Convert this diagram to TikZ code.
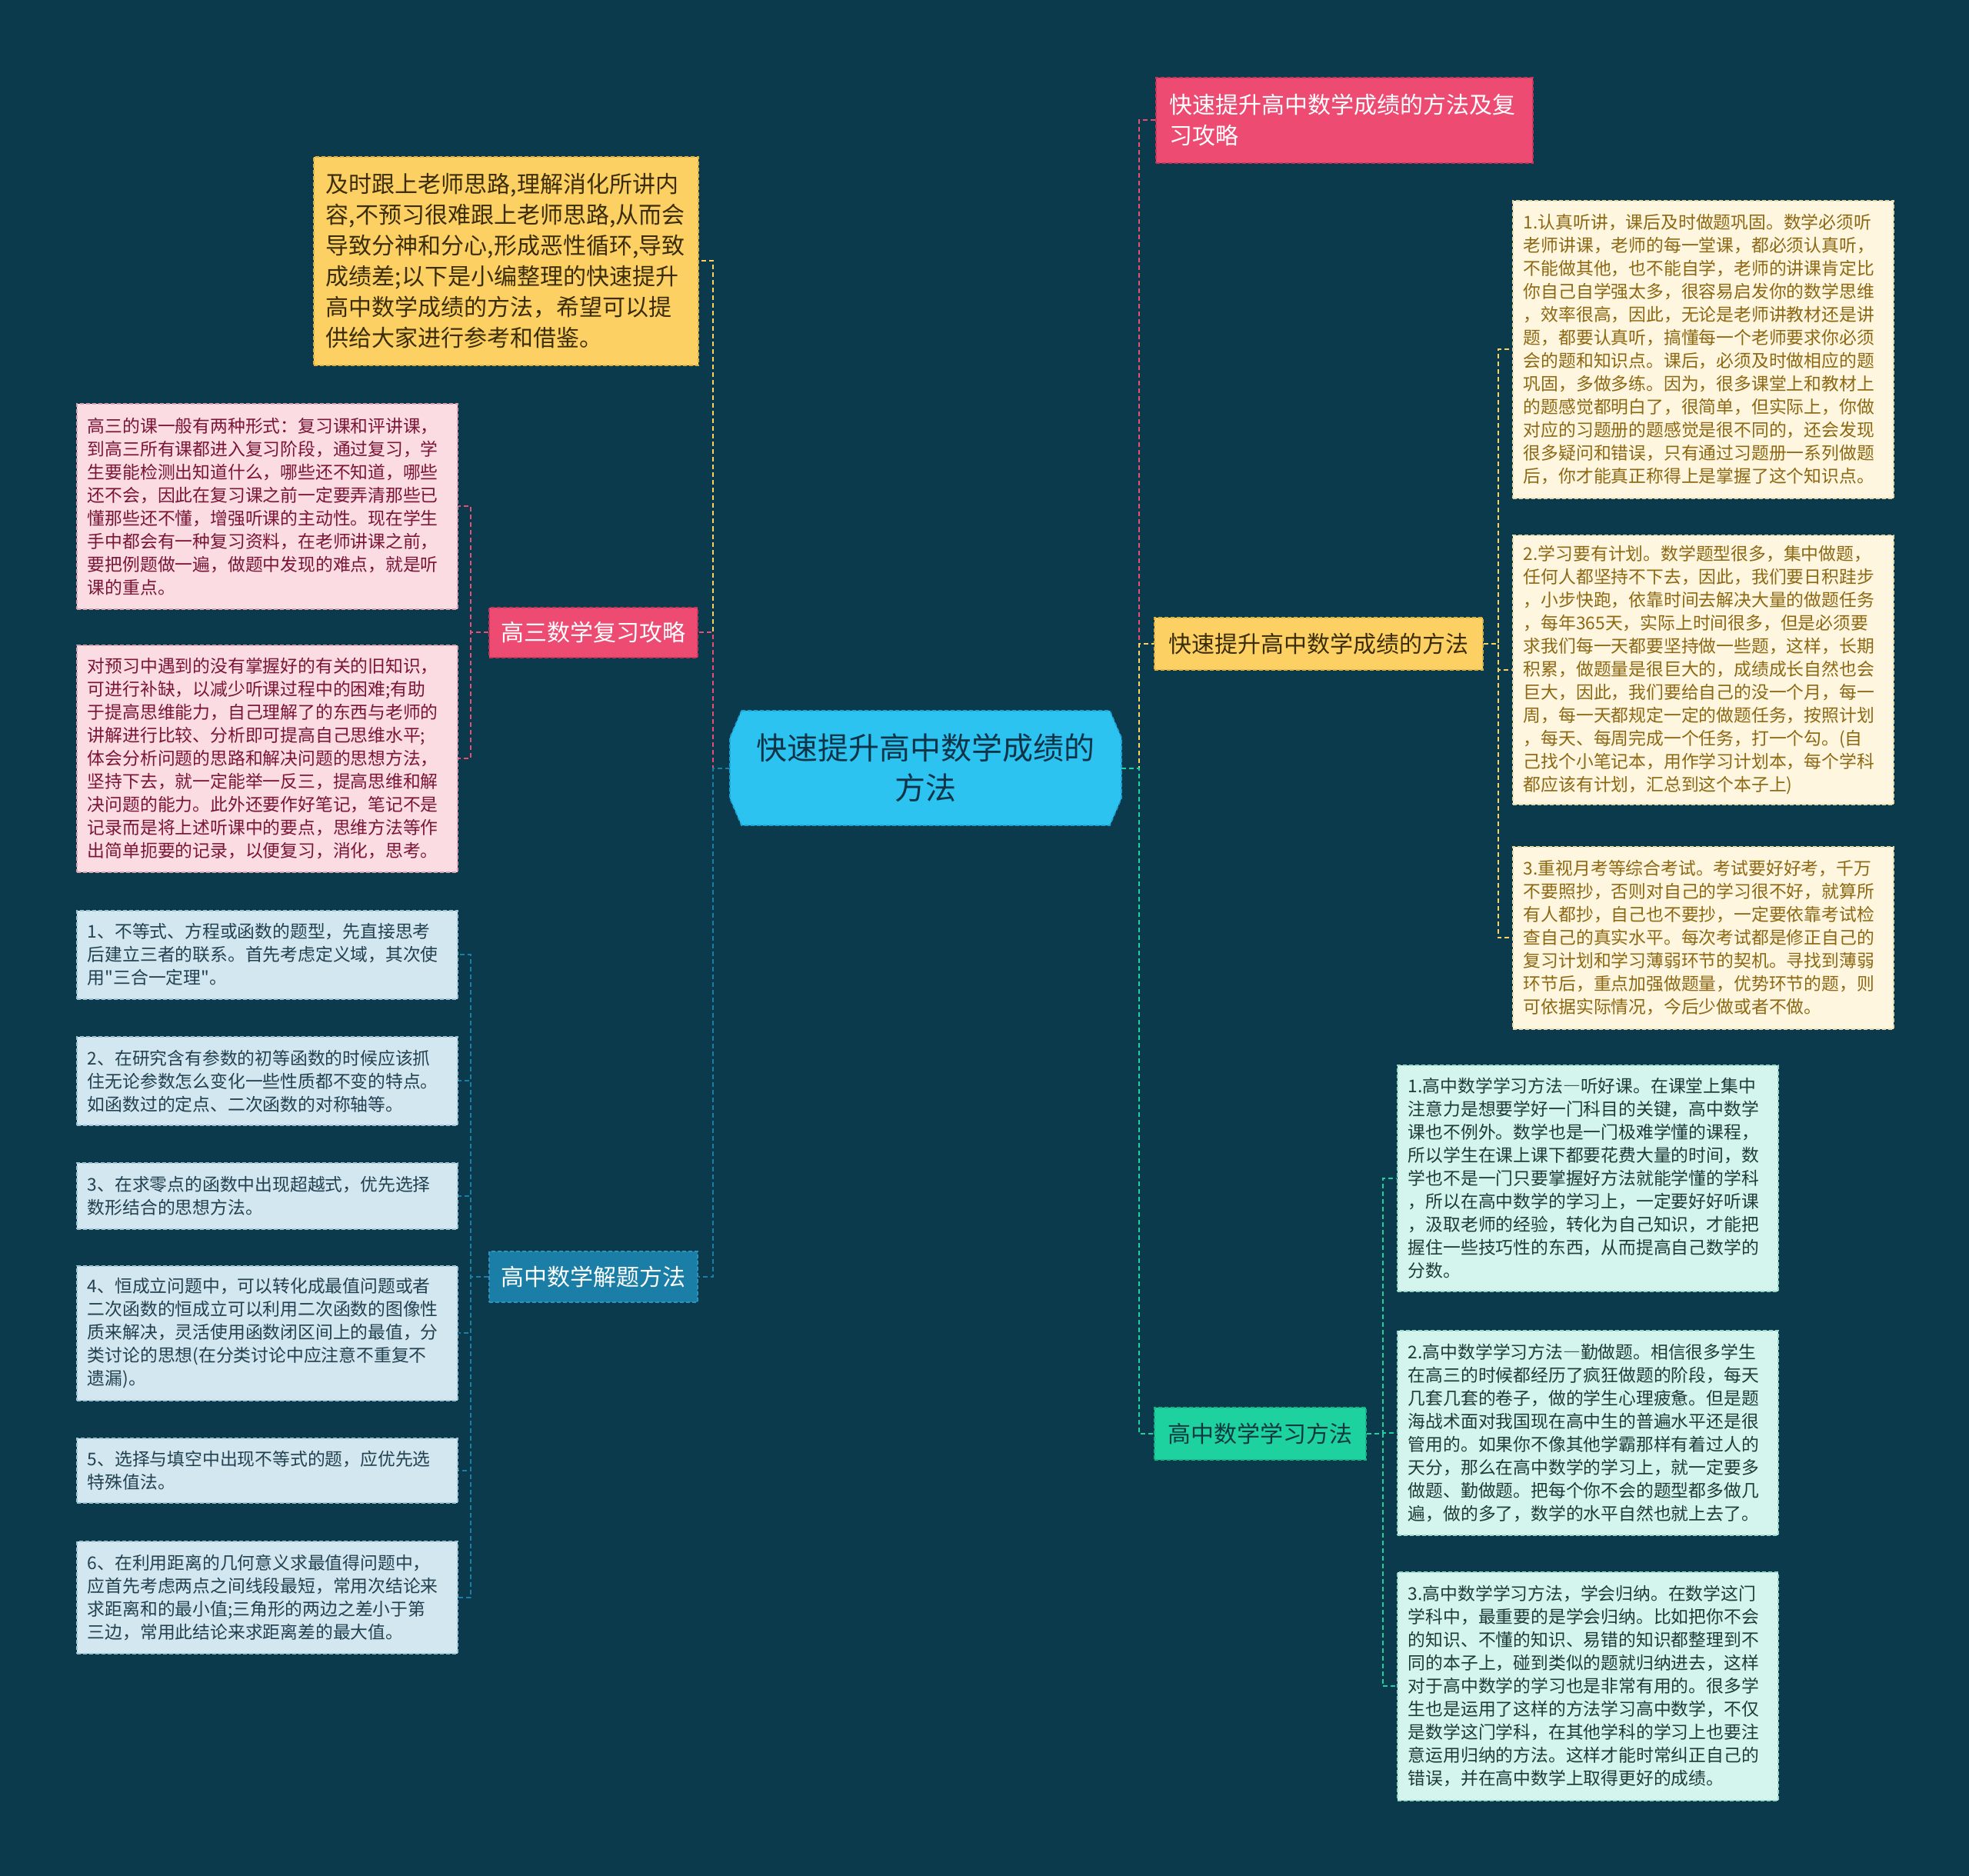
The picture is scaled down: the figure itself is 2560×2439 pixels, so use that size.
\documentclass[tikz,border=0pt]{standalone}
\usepackage{fontspec}
\setmainfont{Noto Sans CJK SC}
\newfontfamily\plainfont{Noto Sans CJK SC}
\newcommand{\fwdash}{{\addfontfeature{CharacterWidth=Full}—}}
\newcommand{\sq}{{\plainfont"}}
\definecolor{bg}{HTML}{0C3A4D}
\definecolor{cyanc}{HTML}{2CC3F1}
\definecolor{cyanb}{HTML}{1BA5D6}
\definecolor{cyant}{HTML}{0F3448}
\definecolor{pinkc}{HTML}{EE4B73}
\definecolor{pinkb}{HTML}{C9345A}
\definecolor{bluec}{HTML}{1A7EA6}
\definecolor{blueb}{HTML}{2B93BE}
\definecolor{yelc}{HTML}{FDD064}
\definecolor{yelb}{HTML}{E0B040}
\definecolor{yelt}{HTML}{3A2D08}
\definecolor{grnc}{HTML}{1ED2A0}
\definecolor{grnb}{HTML}{12B385}
\definecolor{grnt}{HTML}{0D3A40}
\definecolor{pinkleafc}{HTML}{FADCE2}
\definecolor{pinkleafb}{HTML}{D9A0B0}
\definecolor{pinkleaft}{HTML}{7B1535}
\definecolor{blueleafc}{HTML}{D2E7EF}
\definecolor{blueleafb}{HTML}{9EC3D3}
\definecolor{blueleaft}{HTML}{22404F}
\definecolor{creamc}{HTML}{FEF6DE}
\definecolor{creamb}{HTML}{E8D8A8}
\definecolor{creamt}{HTML}{8D6814}
\definecolor{mintc}{HTML}{D4F5EE}
\definecolor{mintb}{HTML}{98D8C8}
\definecolor{mintt}{HTML}{203A3A}
\tikzset{
  leaf/.style={draw, anchor=north west, line width=0.8pt, dash pattern=on 2.5pt off 1.5pt,
    inner xsep=7pt, inner ysep=0pt, align=left, text width=233.5pt,
    font=\fontsize{11.4}{15}\selectfont},
  pinkleaf/.style={leaf, fill=pinkleafc, draw=pinkleafb, text=pinkleaft},
  blueleaf/.style={leaf, fill=blueleafc, draw=blueleafb, text=blueleaft},
  creamleaf/.style={leaf, fill=creamc, draw=creamb, text=creamt},
  mintleaf/.style={leaf, fill=mintc, draw=mintb, text=mintt},
  topic/.style={draw, anchor=north west, line width=0.8pt, dash pattern=on 2.5pt off 1.5pt,
    inner sep=0pt, align=center, font=\fontsize{15}{20}\selectfont},
  conn/.style={line width=1pt, dash pattern=on 3pt off 2pt},
}
\begin{document}
\begin{tikzpicture}[x=0.5pt,y=-0.5pt]
\useasboundingbox (0,0) rectangle (2560,2439);
\fill[bg] (0,0) rectangle (2560,2439);

% central node shape
\filldraw[fill=cyanc, draw=cyanb, line width=0.8pt, dash pattern=on 2.5pt off 1.5pt]
  (964,924) -- (1443,924) -- (1458,959) -- (1458,1038) -- (1443,1073)
  -- (964,1073) -- (949,1038) -- (949,959) -- cycle;
\node[inner sep=0pt, minimum width=254.5pt, minimum height=74.5pt, align=center,
  text=cyant, font=\fontsize{20}{26}\selectfont] (C) at (1203.5,998.5)
  {快速提升高中数学成绩的\\方法};

% left top yellow box
\node[leaf, fill=yelc, draw=yelb, text=yelt, inner xsep=8pt, text width=234pt,
  minimum height=135.5pt, font=\fontsize{15}{20}\selectfont] (LT) at (407,203)
{及时跟上老师思路,理解消化所讲内\\
容,不预习很难跟上老师思路,从而会\\
导致分神和分心,形成恶性循环,导致\\
成绩差;以下是小编整理的快速提升\\
高中数学成绩的方法，希望可以提\\
供给大家进行参考和借鉴。};

% level-1 topics
\node[topic, fill=pinkc, draw=pinkb, text=white, minimum width=135.5pt, minimum height=32.5pt] (G3) at (635,789) {高三数学复习攻略};
\node[topic, fill=bluec, draw=blueb, text=white, minimum width=135.5pt, minimum height=33pt] (JT) at (635,1626) {高中数学解题方法};
\node[topic, fill=pinkc, draw=pinkb, text=white, minimum width=245pt, minimum height=55.5pt,
  align=left, text width=227pt, inner xsep=9pt] (T) at (1502,100)
  {快速提升高中数学成绩的方法及复\\习攻略};
\node[topic, fill=yelc, draw=yelb, text=yelt, minimum width=213.5pt, minimum height=34pt] (Y) at (1500,802) {快速提升高中数学成绩的方法};
\node[topic, fill=grnc, draw=grnb, text=grnt, minimum width=137.5pt, minimum height=34pt] (GN) at (1500,1829) {高中数学学习方法};

% pink leaves
\node[pinkleaf, minimum height=133.5pt] (PC1) at (99,524)
{高三的课一般有两种形式：复习课和评讲课，\\
到高三所有课都进入复习阶段，通过复习，学\\
生要能检测出知道什么，哪些还不知道，哪些\\
还不会，因此在复习课之前一定要弄清那些已\\
懂那些还不懂，增强听课的主动性。现在学生\\
手中都会有一种复习资料，在老师讲课之前，\\
要把例题做一遍，做题中发现的难点，就是听\\
课的重点。};
\node[pinkleaf, minimum height=147.5pt] (PC2) at (99,838)
{对预习中遇到的没有掌握好的有关的旧知识，\\
可进行补缺，以减少听课过程中的困难;有助\\
于提高思维能力，自己理解了的东西与老师的\\
讲解进行比较、分析即可提高自己思维水平;\\
体会分析问题的思路和解决问题的思想方法，\\
坚持下去，就一定能举一反三，提高思维和解\\
决问题的能力。此外还要作好笔记，笔记不是\\
记录而是将上述听课中的要点，思维方法等作\\
出简单扼要的记录，以便复习，消化，思考。};

% blue leaves
\node[blueleaf, minimum height=57.5pt] (BC1) at (99,1183)
{1、不等式、方程或函数的题型，先直接思考\\
后建立三者的联系。首先考虑定义域，其次使\\
用\sq 三合一定理\sq 。};
\node[blueleaf, minimum height=57.5pt] (BC2) at (99,1347)
{2、在研究含有参数的初等函数的时候应该抓\\
住无论参数怎么变化一些性质都不变的特点。\\
如函数过的定点、二次函数的对称轴等。};
\node[blueleaf, minimum height=43pt] (BC3) at (99,1511)
{3、在求零点的函数中出现超越式，优先选择\\
数形结合的思想方法。};
\node[blueleaf, minimum height=87.5pt] (BC4) at (99,1645)
{4、恒成立问题中，可以转化成最值问题或者\\
二次函数的恒成立可以利用二次函数的图像性\\
质来解决，灵活使用函数闭区间上的最值，分\\
类讨论的思想(在分类讨论中应注意不重复不\\
遗漏)。};
\node[blueleaf, minimum height=42pt] (BC5) at (99,1869)
{5、选择与填空中出现不等式的题，应优先选\\
特殊值法。};
\node[blueleaf, minimum height=73pt] (BC6) at (99,2003)
{6、在利用距离的几何意义求最值得问题中，\\
应首先考虑两点之间线段最短，常用次结论来\\
求距离和的最小值;三角形的两边之差小于第\\
三边，常用此结论来求距离差的最大值。};

% cream leaves
\node[creamleaf, minimum height=193.5pt] (YC1) at (1966,260)
{1.认真听讲，课后及时做题巩固。数学必须听\\
老师讲课，老师的每一堂课，都必须认真听，\\
不能做其他，也不能自学，老师的讲课肯定比\\
你自己自学强太多，很容易启发你的数学思维\\
，效率很高，因此，无论是老师讲教材还是讲\\
题，都要认真听，搞懂每一个老师要求你必须\\
会的题和知识点。课后，必须及时做相应的题\\
巩固，多做多练。因为，很多课堂上和教材上\\
的题感觉都明白了，很简单，但实际上，你做\\
对应的习题册的题感觉是很不同的，还会发现\\
很多疑问和错误，只有通过习题册一系列做题\\
后，你才能真正称得上是掌握了这个知识点。};
\node[creamleaf, minimum height=175pt] (YC2) at (1966,695)
{2.学习要有计划。数学题型很多，集中做题，\\
任何人都坚持不下去，因此，我们要日积跬步\\
，小步快跑，依靠时间去解决大量的做题任务\\
，每年365天，实际上时间很多，但是必须要\\
求我们每一天都要坚持做一些题，这样，长期\\
积累，做题量是很巨大的，成绩成长自然也会\\
巨大，因此，我们要给自己的没一个月，每一\\
周，每一天都规定一定的做题任务，按照计划\\
，每天、每周完成一个任务，打一个勾。(自\\
己找个小笔记本，用作学习计划本，每个学科\\
都应该有计划，汇总到这个本子上)};
\node[creamleaf, minimum height=118.5pt] (YC3) at (1966,1100)
{3.重视月考等综合考试。考试要好好考，千万\\
不要照抄，否则对自己的学习很不好，就算所\\
有人都抄，自己也不要抄，一定要依靠考试检\\
查自己的真实水平。每次考试都是修正自己的\\
复习计划和学习薄弱环节的契机。寻找到薄弱\\
环节后，重点加强做题量，优势环节的题，则\\
可依据实际情况，今后少做或者不做。};

% mint leaves
\node[mintleaf, minimum height=147pt] (GC1) at (1816,1384)
{1.高中数学学习方法\fwdash 听好课。在课堂上集中\\
注意力是想要学好一门科目的关键，高中数学\\
课也不例外。数学也是一门极难学懂的课程，\\
所以学生在课上课下都要花费大量的时间，数\\
学也不是一门只要掌握好方法就能学懂的学科\\
，所以在高中数学的学习上，一定要好好听课\\
，汲取老师的经验，转化为自己知识，才能把\\
握住一些技巧性的东西，从而提高自己数学的\\
分数。};
\node[mintleaf, minimum height=133pt] (GC2) at (1816,1729)
{2.高中数学学习方法\fwdash 勤做题。相信很多学生\\
在高三的时候都经历了疯狂做题的阶段，每天\\
几套几套的卷子，做的学生心理疲惫。但是题\\
海战术面对我国现在高中生的普遍水平还是很\\
管用的。如果你不像其他学霸那样有着过人的\\
天分，那么在高中数学的学习上，就一定要多\\
做题、勤做题。把每个你不会的题型都多做几\\
遍，做的多了，数学的水平自然也就上去了。};
\node[mintleaf, minimum height=148.5pt] (GC3) at (1816,2043)
{3.高中数学学习方法，学会归纳。在数学这门\\
学科中，最重要的是学会归纳。比如把你不会\\
的知识、不懂的知识、易错的知识都整理到不\\
同的本子上，碰到类似的题就归纳进去，这样\\
对于高中数学的学习也是非常有用的。很多学\\
生也是运用了这样的方法学习高中数学，不仅\\
是数学这门学科，在其他学科的学习上也要注\\
意运用归纳的方法。这样才能时常纠正自己的\\
错误，并在高中数学上取得更好的成绩。};

% connectors from centre
\draw[conn, yelc]  (C.west) -- ++(-22,0) |- (LT.east);
\draw[conn, pinkc] (C.west) -- ++(-22,0) |- (G3.east);
\draw[conn, bluec] (C.west) -- ++(-22,0) |- (JT.east);
\draw[conn, pinkc] (C.east) -- ++(23,0) |- (T.west);
\draw[conn, yelc]  (C.east) -- ++(23,0) |- (Y.west);
\draw[conn, grnc]  (C.east) -- ++(23,0) |- (GN.west);

% connectors to leaves
\foreach \n in {PC1,PC2}{\draw[conn, pinkc] (G3.west) -- ++(-23,0) |- (\n.east);}
\foreach \n in {BC1,BC2,BC3,BC4,BC5,BC6}{\draw[conn, bluec] (JT.west) -- ++(-23,0) |- (\n.east);}
\foreach \n in {YC1,YC2,YC3}{\draw[conn, yelc] (Y.east) -- ++(19,0) |- (\n.west);}
\foreach \n in {GC1,GC2,GC3}{\draw[conn, grnc] (GN.east) -- ++(21,0) |- (\n.west);}
\end{tikzpicture}
\end{document}
